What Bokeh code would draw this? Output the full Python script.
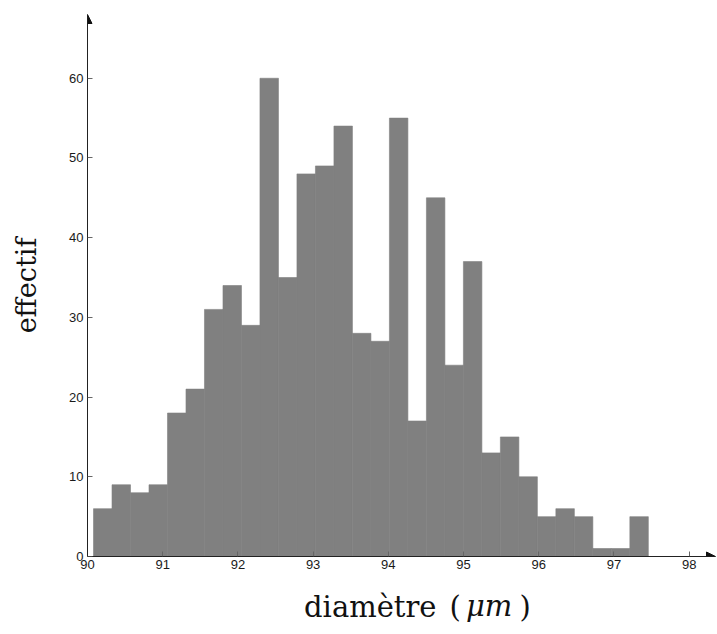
from bokeh.plotting import figure
from bokeh.models import Range1d, Arrow, NormalHead, FixedTicker, LinearAxis
from bokeh.embed import file_html
from bokeh.resources import INLINE

# histogram data
bin_start = 90.08
bin_width = 0.2459
counts = [6, 9, 8, 9, 18, 21, 31, 34, 29, 60, 35, 48, 49, 54, 28,
          27, 55, 17, 45, 24, 37, 13, 15, 10, 5, 6, 5, 1, 1, 5]
x_ticks = [90, 91, 92, 93, 94, 95, 96, 97, 98]
y_ticks = [0, 10, 20, 30, 40, 50, 60]
x_label_upright = {93.76: "diamètre", 94.89: "(", 95.82: ")"}
x_label_italic = {95.34: "μm"}
y_label = "effectif"

lefts = [bin_start + i * bin_width for i in range(len(counts))]
rights = [l + bin_width for l in lefts]

X0, X1 = 90, 98.35
Y0, Y1 = 0, 68

p = figure(width=717, height=634, output_backend="svg", toolbar_location=None,
           x_range=Range1d(X0, X1), y_range=Range1d(Y0, Y1),
           min_border_left=87, min_border_right=2, min_border_top=14,
           min_border_bottom=78)
p.outline_line_color = None
p.grid.visible = False
p.background_fill_color = "white"

p.quad(left=lefts, right=rights, bottom=0, top=counts,
       fill_color="#808080", line_color="#808080", line_width=0.6)

for ax in (p.xaxis[0], p.yaxis[0]):
    ax.major_tick_in = 5
    ax.major_tick_out = 0
    ax.minor_tick_in = 0
    ax.minor_tick_out = 0
    ax.axis_line_color = "#222222"
    ax.axis_line_width = 1
    ax.major_tick_line_color = "#666666"
    ax.major_label_text_font = "Liberation Sans"
    ax.major_label_text_font_size = "13px"
    ax.major_label_text_color = "#1a1a1a"

p.xaxis.ticker = FixedTicker(ticks=x_ticks, minor_ticks=[])
p.yaxis.ticker = FixedTicker(ticks=y_ticks, minor_ticks=[])
p.xaxis.major_label_standoff = 3
p.yaxis.major_label_standoff = 4

p.yaxis.axis_label = y_label
p.yaxis.axis_label_text_font = "DejaVu Serif"
p.yaxis.axis_label_text_font_style = "normal"
p.yaxis.axis_label_text_font_size = "27px"
p.yaxis.axis_label_text_color = "#111111"
p.yaxis.axis_label_standoff = 24


def label_axis(mapping, style, standoff):
    ax = LinearAxis(ticker=FixedTicker(ticks=list(mapping.keys()), minor_ticks=[]),
                    major_label_overrides=dict(mapping),
                    axis_line_color=None, major_tick_line_color=None,
                    minor_tick_line_color=None,
                    major_label_standoff=standoff,
                    major_label_text_font="DejaVu Serif",
                    major_label_text_font_style=style,
                    major_label_text_font_size="29px",
                    major_label_text_color="#111111")
    p.add_layout(ax, "below")


label_axis(x_label_upright, "normal", 12)
label_axis(x_label_italic, "italic", -44)

head_kw = dict(size=9, fill_color="#111111", line_color="#111111")
p.add_layout(Arrow(end=NormalHead(**head_kw), x_start=X0, y_start=Y0,
                   x_end=X0, y_end=Y1, line_color="#222222", line_width=1))
p.add_layout(Arrow(end=NormalHead(**head_kw), x_start=X0, y_start=Y0,
                   x_end=X1, y_end=Y0, line_color="#222222", line_width=1))

open("out.html", "w").write(file_html(p, INLINE))
